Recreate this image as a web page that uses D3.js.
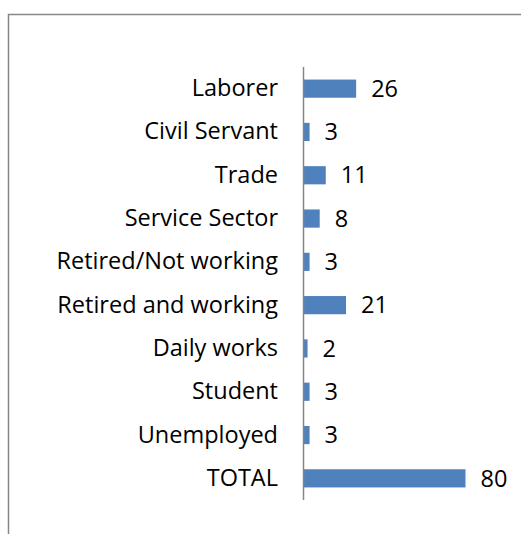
<!DOCTYPE html>
<html>
<head>
<meta charset="utf-8">
<script src="https://cdn.jsdelivr.net/npm/d3@7"></script>
<style>
  html, body { margin: 0; padding: 0; background: #fff; }
  svg { display: block; }
  text { font-family: "Open Sans", "Liberation Sans", sans-serif; fill: #000; }
</style>
</head>
<body>
<svg id="chart" width="521" height="534"></svg>
<script>
// Occupation categories, top to bottom
const categories = [
  "Laborer", "Civil Servant", "Trade", "Service Sector", "Retired/Not working",
  "Retired and working", "Daily works", "Student", "Unemployed", "TOTAL"
];
// Respondent counts per occupation
const counts = [26, 3, 11, 8, 3, 21, 2, 3, 3, 80];

const W = 521, H = 534;
const FONT = "23.5px";
const svg = d3.select("#chart");

// Chart frame (top and left edges visible)
svg.append("path")
  .attr("d", `M8.5,${H} V14.5 H${W}`)
  .attr("fill", "none")
  .attr("stroke", "#878787")
  .attr("stroke-width", 1.5);

const x0 = 303.5;
const x = d3.scaleLinear().domain([0, 80]).range([x0, x0 + 162]);
const y = d3.scaleBand().domain(categories).range([67, 500]).paddingInner(0.58).paddingOuter(0.29);

const data = categories.map((c, i) => ({ c, v: counts[i] }));

svg.append("g").selectAll("rect")
  .data(data)
  .join("rect")
  .attr("x", x(0))
  .attr("y", d => y(d.c))
  .attr("width", d => x(d.v) - x(0))
  .attr("height", y.bandwidth())
  .attr("fill", "#4f81bd");

// Category axis
const axis = d3.axisLeft(y).tickSize(0).tickPadding(25.5);
const gAxis = svg.append("g").attr("transform", `translate(${x0},0)`).call(axis);
gAxis.select(".domain").attr("stroke", "#878787").attr("stroke-width", 1.5)
  .attr("d", `M0,67V500`);
gAxis.selectAll("text")
  .style("font-size", FONT)
  .style("font-family", "'Open Sans', 'Liberation Sans', sans-serif")
  .attr("fill", "#000");

// Value labels
svg.append("g").selectAll("text")
  .data(data)
  .join("text")
  .attr("x", d => x(d.v) + 15)
  .attr("y", d => y(d.c) + y.bandwidth() / 2)
  .attr("dy", "0.35em")
  .style("font-size", FONT)
  .text(d => d.v);
</script>
</body>
</html>
